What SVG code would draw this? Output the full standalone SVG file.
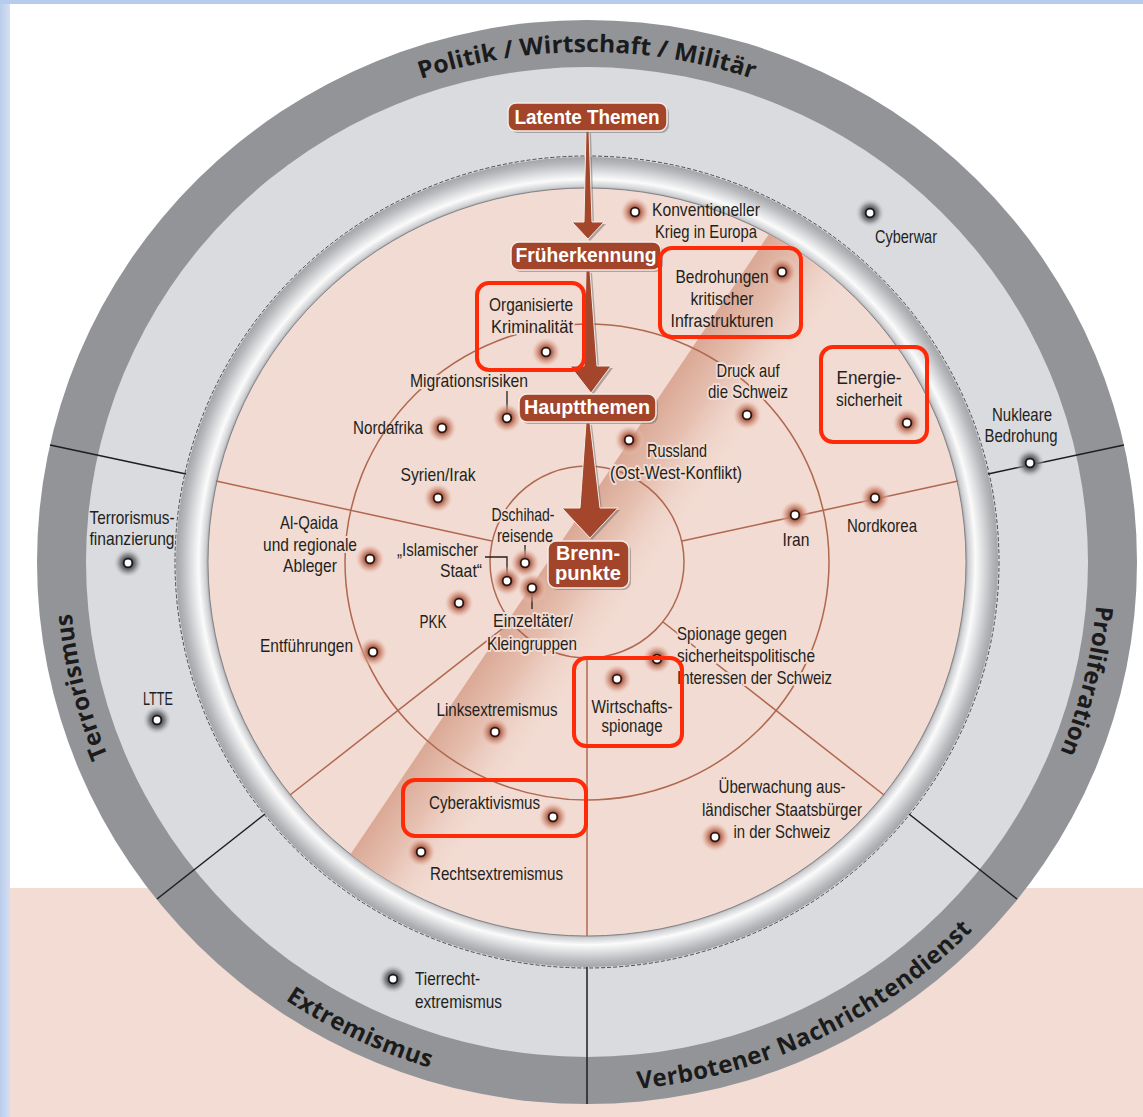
<svg xmlns="http://www.w3.org/2000/svg" width="1143" height="1117" viewBox="0 0 1143 1117">
  <style>
    .lb { font-family: "Liberation Sans", Arial, sans-serif; font-size: 19px; fill: #231f20; }
    .hl { stroke: #f2dbd2; stroke-width: 4px; paint-order: stroke; stroke-linejoin: round; }
    .bx { font-family: "Liberation Sans", Arial, sans-serif; font-weight: bold; font-size: 20px; fill: #ffffff; }
    .rg { font-family: "Open Sans", "Liberation Sans", sans-serif; font-weight: 700; font-size: 24px; fill: #1b1b1b; }
    .ring-line { stroke: #b0684f; stroke-width: 1.5; fill: none; }
    .sector { stroke: #1e1e1e; stroke-width: 1.5; fill: none; }
    .tick { stroke: #231f20; stroke-width: 1.3; fill: none; }
    .hot { fill: none; stroke: #ff2a08; stroke-width: 4; }
    .tbox { fill: #a2452b; stroke: #f6ece6; stroke-width: 1.5; }
    .tshadow { fill: #5e5e5e; opacity: 0.45; }
    .arrow { fill: #a4462c; stroke: #f6ece6; stroke-width: 1; }
  </style>
  <defs>
    <linearGradient id="sideBlue" x1="0" y1="0" x2="1" y2="0">
      <stop offset="0" stop-color="#bccdec"/>
      <stop offset="1" stop-color="#d3dff3"/>
    </linearGradient>
    <radialGradient id="silver" cx="0.5" cy="0.5" r="0.5">
      <stop offset="0.918" stop-color="#8a8c90"/>
      <stop offset="0.928" stop-color="#cfd0d3"/>
      <stop offset="0.945" stop-color="#fbfbfb"/>
      <stop offset="0.962" stop-color="#dfe0e2"/>
      <stop offset="0.985" stop-color="#b7b9bc"/>
      <stop offset="1" stop-color="#a3a5a8"/>
    </radialGradient>
    <linearGradient id="stripe" gradientUnits="userSpaceOnUse" x1="350" y1="855" x2="428" y2="908">
      <stop offset="0" stop-color="#dba996"/>
      <stop offset="0.4" stop-color="#e6c0b1"/>
      <stop offset="1" stop-color="#f2dbd2" stop-opacity="0"/>
    </linearGradient>
    <radialGradient id="haloP">
      <stop offset="0" stop-color="#5a2418"/>
      <stop offset="0.3" stop-color="#9d4f3b"/>
      <stop offset="0.5" stop-color="#bf7a64" stop-opacity="0.85"/>
      <stop offset="0.75" stop-color="#dba391" stop-opacity="0.5"/>
      <stop offset="1" stop-color="#f2dbd2" stop-opacity="0"/>
    </radialGradient>
    <radialGradient id="haloG">
      <stop offset="0" stop-color="#2a2b2e"/>
      <stop offset="0.3" stop-color="#4a4c50"/>
      <stop offset="0.55" stop-color="#77797d" stop-opacity="0.8"/>
      <stop offset="1" stop-color="#dadbdf" stop-opacity="0"/>
    </radialGradient>
    <clipPath id="core">
      <ellipse cx="587" cy="562" rx="379" ry="374"/>
    </clipPath>
    <g id="dotP">
      <circle r="15" fill="url(#haloP)"/>
      <circle r="5.2" fill="#2a1510"/>
      <circle r="3.4" fill="#ffffff"/>
    </g>
    <g id="dotG">
      <circle r="15" fill="url(#haloG)"/>
      <circle r="5.2" fill="#17181a"/>
      <circle r="3.4" fill="#ffffff"/>
    </g>
    <!-- baselines for the sector titles -->
    <path id="arcTop" d="M254.7,171.3 A517,510 0 0 1 919.3,171.3"/>
    <path id="arcLeft" d="M282.5,974.6 A518,510 0 0 1 121.4,338.4"/>
    <path id="arcRight" d="M1044.3,337.1 A511,504 0 0 1 890.9,967.2"/>
    <path id="arcBL" d="M97.4,779.3 A537,529 0 0 0 719.2,1074.7"/>
    <path id="arcBR" d="M454.8,1074.7 A537,529 0 0 0 1076.6,779.3"/>
  </defs>

  <!-- page background -->
  <rect x="0" y="0" width="1143" height="1117" fill="#ffffff"/>
  <rect x="10" y="888" width="1133" height="229" fill="#f2dcd3"/>
  <rect x="0" y="0" width="10" height="1117" fill="url(#sideBlue)"/>
  <rect x="0" y="0" width="1143" height="4" fill="#b7cbec"/>

  <!-- rings -->
  <g id="rings">
    <ellipse cx="587" cy="562" rx="550" ry="542" fill="#929497"/>
    <ellipse cx="587" cy="562" rx="501" ry="495" fill="#dadbdf"/>
    <ellipse cx="587" cy="562" rx="411" ry="405" fill="url(#silver)"/>
    <ellipse cx="587" cy="562" rx="412" ry="406" fill="none" stroke="#3c3c3c" stroke-width="0.9" stroke-dasharray="4 2"/>
    <ellipse cx="587" cy="562" rx="379" ry="374" fill="#f2dbd2" stroke="#7a7c80" stroke-width="0.9"/>
    <polygon points="294,938 798,191 889,253 385,1000" fill="url(#stripe)" clip-path="url(#core)"/>
    <ellipse class="ring-line" cx="587" cy="562" rx="242" ry="238"/>
    <ellipse class="ring-line" cx="587" cy="562" rx="97" ry="96"/>
  </g>

  <!-- sector dividers -->
  <g id="dividers">
    <line class="ring-line" x1="492" y1="541" x2="216" y2="481"/>
    <line class="ring-line" x1="682" y1="541" x2="958" y2="481"/>
    <line class="ring-line" x1="663" y1="622" x2="884" y2="795"/>
    <line class="ring-line" x1="511" y1="622" x2="290" y2="795"/>
    <line class="ring-line" x1="587" y1="658" x2="587" y2="936"/>
    <line class="sector" x1="186" y1="474" x2="50" y2="445"/>
    <line class="sector" x1="988" y1="474" x2="1124" y2="445"/>
    <line class="sector" x1="909" y1="814" x2="1017" y2="899"/>
    <line class="sector" x1="265" y1="814" x2="157" y2="899"/>
    <line class="sector" x1="587" y1="967" x2="587" y2="1104"/>
  </g>

  <!-- sector titles -->
  <g id="sector-titles">
    <text class="rg" font-size="25" text-anchor="middle" textLength="338" lengthAdjust="spacingAndGlyphs"><textPath href="#arcTop" startOffset="50%">Politik / Wirtschaft / Militär</textPath></text>
    <text class="rg" text-anchor="middle" textLength="148" lengthAdjust="spacing"><textPath href="#arcLeft" startOffset="50%">Terrorismus</textPath></text>
    <text class="rg" text-anchor="middle" textLength="152" lengthAdjust="spacing"><textPath href="#arcRight" startOffset="50%">Proliferation</textPath></text>
    <text class="rg" text-anchor="middle" textLength="160" lengthAdjust="spacing"><textPath href="#arcBL" startOffset="50%">Extremismus</textPath></text>
    <text class="rg" text-anchor="middle" textLength="378" lengthAdjust="spacing"><textPath href="#arcBR" startOffset="50%">Verbotener Nachrichtendienst</textPath></text>
  </g>

  <!-- connectors: stage arrows and label ticks -->
  <g id="connectors">
    <polygon class="tshadow" points="588,133 591,133 594,224 606,224 590,241 574,224 586,224"/>
    <polygon class="arrow" points="586,131 589,131 592,222 604,222 588,239 572,222 584,222"/>
    <polygon class="tshadow" points="588,273 592,273 599,368 613,368 593,395 572,368 586,368"/>
    <polygon class="arrow" points="586,271 590,271 597,366 611,366 591,393 570,366 584,366"/>
    <polygon class="tshadow" points="588,425 592,425 602,510 620,510 592,540 564,510 582,510"/>
    <polygon class="arrow" points="586,423 590,423 600,508 618,508 590,538 562,508 580,508"/>
    <polyline class="tick" points="507,391 507,411"/>
    <polyline class="tick" points="525,545 525,557"/>
    <polyline class="tick" points="485,557 507,557 507,575"/>
    <polyline class="tick" points="532,594 532,609"/>
  </g>

  <!-- stage boxes -->
  <g id="latente-themen">
    <rect class="tshadow" x="510" y="105" width="159" height="28" rx="8"/>
    <rect class="tbox" x="508" y="103" width="159" height="28" rx="8"/>
    <text class="bx" x="587" y="124" text-anchor="middle" textLength="145" lengthAdjust="spacingAndGlyphs">Latente Themen</text>
  </g>
  <g id="frueherkennung">
    <rect class="tshadow" x="513" y="244" width="150" height="28" rx="8"/>
    <rect class="tbox" x="511" y="242" width="150" height="28" rx="8"/>
    <text class="bx" x="586" y="262" text-anchor="middle" textLength="141" lengthAdjust="spacingAndGlyphs">Früherkennung</text>
  </g>
  <g id="hauptthemen">
    <rect class="tshadow" x="521" y="396" width="137" height="28" rx="8"/>
    <rect class="tbox" x="519" y="394" width="137" height="28" rx="8"/>
    <text class="bx" x="587" y="414" text-anchor="middle" textLength="126" lengthAdjust="spacingAndGlyphs">Hauptthemen</text>
  </g>
  <g id="brennpunkte">
    <rect class="tshadow" x="550" y="543" width="81" height="47" rx="8"/>
    <rect class="tbox" x="548" y="541" width="81" height="47" rx="8"/>
    <text class="bx" font-size="18.5" x="588" y="560" text-anchor="middle" textLength="64" lengthAdjust="spacingAndGlyphs">Brenn-</text>
    <text class="bx" font-size="18.5" x="588" y="580" text-anchor="middle" textLength="66" lengthAdjust="spacingAndGlyphs">punkte</text>
  </g>

  <!-- topics: Politik / Wirtschaft / Militär -->
  <g id="konventioneller-krieg">
    <use href="#dotP" x="635" y="212"/>
    <text class="lb" x="652" y="216" textLength="108" lengthAdjust="spacingAndGlyphs">Konventioneller</text>
    <text class="lb" x="655" y="238" textLength="102" lengthAdjust="spacingAndGlyphs">Krieg in Europa</text>
  </g>
  <g id="kritische-infrastrukturen">
    <use href="#dotP" x="782" y="272"/>
    <text class="lb" x="722" y="283" text-anchor="middle" textLength="93" lengthAdjust="spacingAndGlyphs">Bedrohungen</text>
    <text class="lb" x="722" y="305" text-anchor="middle" textLength="63" lengthAdjust="spacingAndGlyphs">kritischer</text>
    <text class="lb" x="722" y="327" text-anchor="middle" textLength="103" lengthAdjust="spacingAndGlyphs">Infrastrukturen</text>
  </g>
  <g id="organisierte-kriminalitaet">
    <use href="#dotP" x="546" y="352"/>
    <text class="lb hl" x="531" y="311" text-anchor="middle" textLength="84" lengthAdjust="spacingAndGlyphs">Organisierte</text>
    <text class="lb hl" x="532" y="333" text-anchor="middle" textLength="82" lengthAdjust="spacingAndGlyphs">Kriminalität</text>
  </g>
  <g id="migrationsrisiken">
    <use href="#dotP" x="507" y="418"/>
    <text class="lb hl" x="410" y="387" textLength="118" lengthAdjust="spacingAndGlyphs">Migrationsrisiken</text>
  </g>
  <g id="druck-auf-die-schweiz">
    <use href="#dotP" x="747" y="415"/>
    <text class="lb hl" x="748" y="377" text-anchor="middle" textLength="63" lengthAdjust="spacingAndGlyphs">Druck auf</text>
    <text class="lb hl" x="748" y="398" text-anchor="middle" textLength="80" lengthAdjust="spacingAndGlyphs">die Schweiz</text>
  </g>
  <g id="energiesicherheit">
    <use href="#dotP" x="907" y="423"/>
    <text class="lb" x="869" y="384" text-anchor="middle" textLength="65" lengthAdjust="spacingAndGlyphs">Energie-</text>
    <text class="lb" x="869" y="406" text-anchor="middle" textLength="66" lengthAdjust="spacingAndGlyphs">sicherheit</text>
  </g>
  <g id="cyberwar">
    <use href="#dotG" x="870" y="213"/>
    <text class="lb" x="875" y="243" textLength="62" lengthAdjust="spacingAndGlyphs">Cyberwar</text>
  </g>
  <g id="russland">
    <use href="#dotP" x="629" y="440"/>
    <text class="lb hl" x="647" y="457" textLength="60" lengthAdjust="spacingAndGlyphs">Russland</text>
    <text class="lb hl" x="610" y="479" textLength="132" lengthAdjust="spacingAndGlyphs">(Ost-West-Konflikt)</text>
  </g>

  <!-- topics: Proliferation -->
  <g id="nukleare-bedrohung">
    <use href="#dotG" x="1030" y="463"/>
    <text class="lb" x="1022" y="421" text-anchor="middle" textLength="60" lengthAdjust="spacingAndGlyphs">Nukleare</text>
    <text class="lb" x="1021" y="442" text-anchor="middle" textLength="73" lengthAdjust="spacingAndGlyphs">Bedrohung</text>
  </g>
  <g id="iran">
    <use href="#dotP" x="795" y="515"/>
    <text class="lb" x="796" y="546" text-anchor="middle" textLength="27" lengthAdjust="spacingAndGlyphs">Iran</text>
  </g>
  <g id="nordkorea">
    <use href="#dotP" x="875" y="498"/>
    <text class="lb" x="882" y="532" text-anchor="middle" textLength="70" lengthAdjust="spacingAndGlyphs">Nordkorea</text>
  </g>

  <!-- topics: Verbotener Nachrichtendienst -->
  <g id="spionage-sicherheitspolitik">
    <use href="#dotP" x="657" y="659"/>
    <text class="lb hl" x="677" y="640" textLength="110" lengthAdjust="spacingAndGlyphs">Spionage gegen</text>
    <text class="lb hl" x="677" y="662" textLength="138" lengthAdjust="spacingAndGlyphs">sicherheitspolitische</text>
    <text class="lb hl" x="677" y="684" textLength="155" lengthAdjust="spacingAndGlyphs">Interessen der Schweiz</text>
  </g>
  <g id="wirtschaftsspionage">
    <use href="#dotP" x="617" y="679"/>
    <text class="lb" x="632" y="713" text-anchor="middle" textLength="81" lengthAdjust="spacingAndGlyphs">Wirtschafts-</text>
    <text class="lb" x="632" y="732" text-anchor="middle" textLength="61" lengthAdjust="spacingAndGlyphs">spionage</text>
  </g>
  <g id="ueberwachung">
    <use href="#dotP" x="715" y="837"/>
    <text class="lb" x="782" y="793" text-anchor="middle" textLength="127" lengthAdjust="spacingAndGlyphs">Überwachung aus-</text>
    <text class="lb" x="782" y="816" text-anchor="middle" textLength="160" lengthAdjust="spacingAndGlyphs">ländischer Staatsbürger</text>
    <text class="lb" x="782" y="838" text-anchor="middle" textLength="97" lengthAdjust="spacingAndGlyphs">in der Schweiz</text>
  </g>

  <!-- topics: Extremismus -->
  <g id="linksextremismus">
    <use href="#dotP" x="495" y="732"/>
    <text class="lb" x="497" y="716" text-anchor="middle" textLength="121" lengthAdjust="spacingAndGlyphs">Linksextremismus</text>
  </g>
  <g id="cyberaktivismus">
    <use href="#dotP" x="553" y="817"/>
    <text class="lb" x="429" y="809" textLength="111" lengthAdjust="spacingAndGlyphs">Cyberaktivismus</text>
  </g>
  <g id="rechtsextremismus">
    <use href="#dotP" x="421" y="852"/>
    <text class="lb" x="430" y="880" textLength="133" lengthAdjust="spacingAndGlyphs">Rechtsextremismus</text>
  </g>
  <g id="tierrechtextremismus">
    <use href="#dotG" x="393" y="979"/>
    <text class="lb" x="415" y="985" textLength="65" lengthAdjust="spacingAndGlyphs">Tierrecht-</text>
    <text class="lb" x="415" y="1008" textLength="87" lengthAdjust="spacingAndGlyphs">extremismus</text>
  </g>

  <!-- topics: Terrorismus -->
  <g id="nordafrika">
    <use href="#dotP" x="442" y="428"/>
    <text class="lb" x="423" y="434" text-anchor="end" textLength="70" lengthAdjust="spacingAndGlyphs">Nordafrika</text>
  </g>
  <g id="syrien-irak">
    <use href="#dotP" x="438" y="498"/>
    <text class="lb" x="438" y="481" text-anchor="middle" textLength="75" lengthAdjust="spacingAndGlyphs">Syrien/Irak</text>
  </g>
  <g id="al-qaida">
    <use href="#dotP" x="370" y="559"/>
    <text class="lb hl" x="309" y="529" text-anchor="middle" textLength="58" lengthAdjust="spacingAndGlyphs">Al-Qaida</text>
    <text class="lb hl" x="310" y="551" text-anchor="middle" textLength="94" lengthAdjust="spacingAndGlyphs">und regionale</text>
    <text class="lb hl" x="310" y="572" text-anchor="middle" textLength="54" lengthAdjust="spacingAndGlyphs">Ableger</text>
  </g>
  <g id="dschihadreisende">
    <use href="#dotP" x="525" y="563"/>
    <text class="lb hl" x="523" y="521" text-anchor="middle" textLength="63" lengthAdjust="spacingAndGlyphs">Dschihad-</text>
    <text class="lb hl" x="525" y="542" text-anchor="middle" textLength="56" lengthAdjust="spacingAndGlyphs">reisende</text>
  </g>
  <g id="islamischer-staat">
    <use href="#dotP" x="507" y="581"/>
    <text class="lb hl" x="478" y="556" text-anchor="end" textLength="81" lengthAdjust="spacingAndGlyphs">„Islamischer</text>
    <text class="lb hl" x="482" y="577" text-anchor="end" textLength="42" lengthAdjust="spacingAndGlyphs">Staat“</text>
  </g>
  <g id="einzeltaeter">
    <use href="#dotP" x="532" y="588"/>
    <text class="lb hl" x="533" y="627" text-anchor="middle" textLength="80" lengthAdjust="spacingAndGlyphs">Einzeltäter/</text>
    <text class="lb hl" x="532" y="650" text-anchor="middle" textLength="90" lengthAdjust="spacingAndGlyphs">Kleingruppen</text>
  </g>
  <g id="pkk">
    <use href="#dotP" x="459" y="603"/>
    <text class="lb" x="433" y="628" text-anchor="middle" textLength="27" lengthAdjust="spacingAndGlyphs">PKK</text>
  </g>
  <g id="entfuehrungen">
    <use href="#dotP" x="373" y="652"/>
    <text class="lb hl" x="353" y="652" text-anchor="end" textLength="93" lengthAdjust="spacingAndGlyphs">Entführungen</text>
  </g>
  <g id="terrorismusfinanzierung">
    <use href="#dotG" x="128" y="563"/>
    <text class="lb" x="132" y="524" text-anchor="middle" textLength="85" lengthAdjust="spacingAndGlyphs">Terrorismus-</text>
    <text class="lb" x="132" y="545" text-anchor="middle" textLength="85" lengthAdjust="spacingAndGlyphs">finanzierung</text>
  </g>
  <g id="ltte">
    <use href="#dotG" x="157" y="720"/>
    <text class="lb" x="158" y="705" text-anchor="middle" textLength="30" lengthAdjust="spacingAndGlyphs">LTTE</text>
  </g>

  <!-- highlighted topics -->
  <g id="highlights">
    <rect class="hot" x="477" y="283" width="107" height="87" rx="12"/>
    <rect class="hot" x="660" y="248" width="141" height="89" rx="12"/>
    <rect class="hot" x="821" y="347" width="106" height="95" rx="12"/>
    <rect class="hot" x="574" y="658" width="108" height="88" rx="12"/>
    <rect class="hot" x="403" y="780" width="183" height="56" rx="12"/>
  </g>
</svg>
